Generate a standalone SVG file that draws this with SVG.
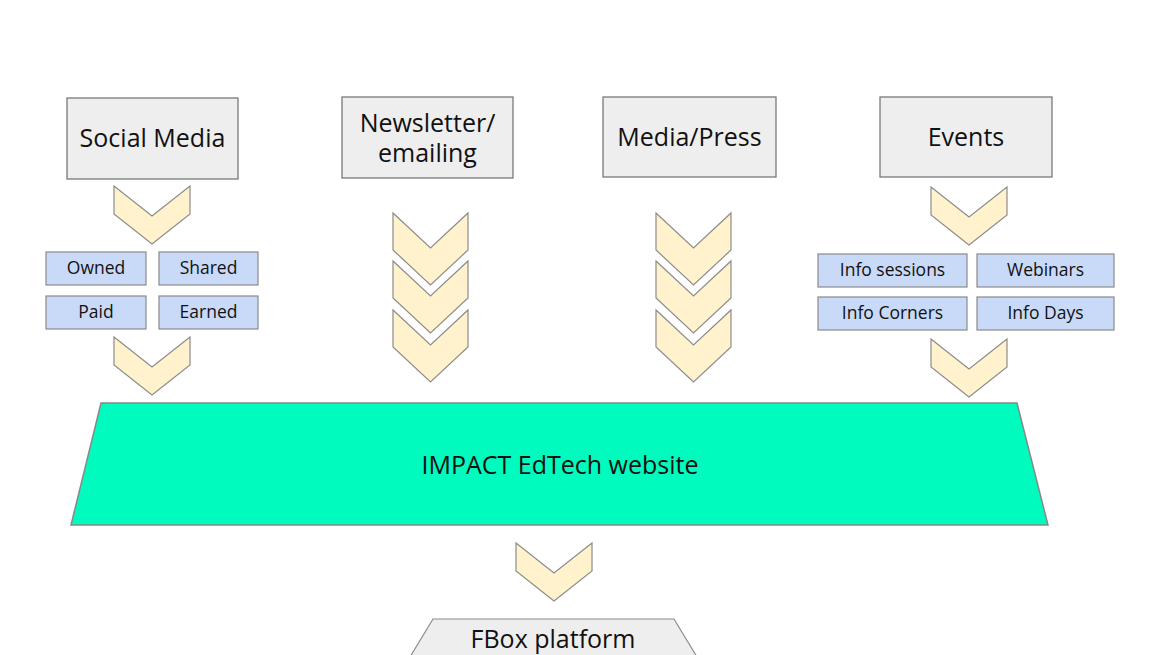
<svg xmlns="http://www.w3.org/2000/svg" width="1153" height="655" viewBox="0 0 1153 655">
<style>
text{font-family:"Open Sans","Noto Sans","Liberation Sans",sans-serif;fill:#111;text-anchor:middle}
.src{fill:#eeeeee;stroke:#6e6e6e;stroke-width:1.2}
.sub{fill:#c9daf8;stroke:#8a8a8a;stroke-width:1.2}
.chev{fill:#fff2cc;stroke:#8c8c8c;stroke-width:1.2;stroke-linejoin:miter}
.big{font-size:25px}
.small{font-size:17.5px}
</style>
<defs>
<polygon id="chS" points="0,0 38,30 76,0 76,28 38,58 0,28"/>
<polygon id="chL" points="0,0 37.5,35 75,0 75,37 37.5,72 0,37"/>
</defs>
<rect width="1153" height="655" fill="#ffffff"/>

<g id="social-media">
<rect class="src" x="67" y="98" width="171" height="81"/>
<text class="big" x="152.5" y="147">Social Media</text>
</g>
<g id="newsletter">
<rect class="src" x="342" y="97" width="171" height="81"/>
<text class="big" x="427.5" y="132">Newsletter/</text>
<text class="big" x="427.5" y="162">emailing</text>
</g>
<g id="media-press">
<rect class="src" x="603" y="97" width="173" height="80"/>
<text class="big" x="689.5" y="146">Media/Press</text>
</g>
<g id="events">
<rect class="src" x="880" y="97" width="172" height="80"/>
<text class="big" x="966" y="146">Events</text>
</g>

<g id="owned"><rect class="sub" x="46" y="252" width="100" height="33"/><text class="small" x="96" y="274">Owned</text></g>
<g id="shared"><rect class="sub" x="159" y="252" width="99" height="33"/><text class="small" x="208.5" y="274">Shared</text></g>
<g id="paid"><rect class="sub" x="46" y="296" width="100" height="33"/><text class="small" x="96" y="318">Paid</text></g>
<g id="earned"><rect class="sub" x="159" y="296" width="99" height="33"/><text class="small" x="208.5" y="318">Earned</text></g>

<g id="info-sessions"><rect class="sub" x="818" y="254" width="149" height="33"/><text class="small" x="892.5" y="276">Info sessions</text></g>
<g id="webinars"><rect class="sub" x="977" y="254" width="137" height="33"/><text class="small" x="1045.5" y="276">Webinars</text></g>
<g id="info-corners"><rect class="sub" x="818" y="297" width="149" height="33"/><text class="small" x="892.5" y="319">Info Corners</text></g>
<g id="info-days"><rect class="sub" x="977" y="297" width="137" height="33"/><text class="small" x="1045.5" y="319">Info Days</text></g>

<g id="connectors">
<use class="chev" href="#chS" x="114" y="186"/>
<use class="chev" href="#chS" x="114" y="337"/>
<use class="chev" href="#chL" x="393" y="213"/>
<use class="chev" href="#chL" x="393" y="261"/>
<use class="chev" href="#chL" x="393" y="310"/>
<use class="chev" href="#chL" x="656" y="213"/>
<use class="chev" href="#chL" x="656" y="261"/>
<use class="chev" href="#chL" x="656" y="310"/>
<use class="chev" href="#chS" x="931" y="187"/>
<use class="chev" href="#chS" x="931" y="339"/>
<use class="chev" href="#chS" x="516" y="543"/>
</g>

<g id="website">
<polygon points="101,403 1017,403 1048,525 71,525" fill="#00fbbf" stroke="#888" stroke-width="1.5"/>
<text class="big" x="560" y="474">IMPACT EdTech website</text>
</g>

<g id="fbox">
<polygon points="433,619 674,619 697,657 410,657" fill="#eeeeee" stroke="#8c8c8c" stroke-width="1.2"/>
<text class="big" x="553" y="648">FBox platform</text>
</g>
</svg>
